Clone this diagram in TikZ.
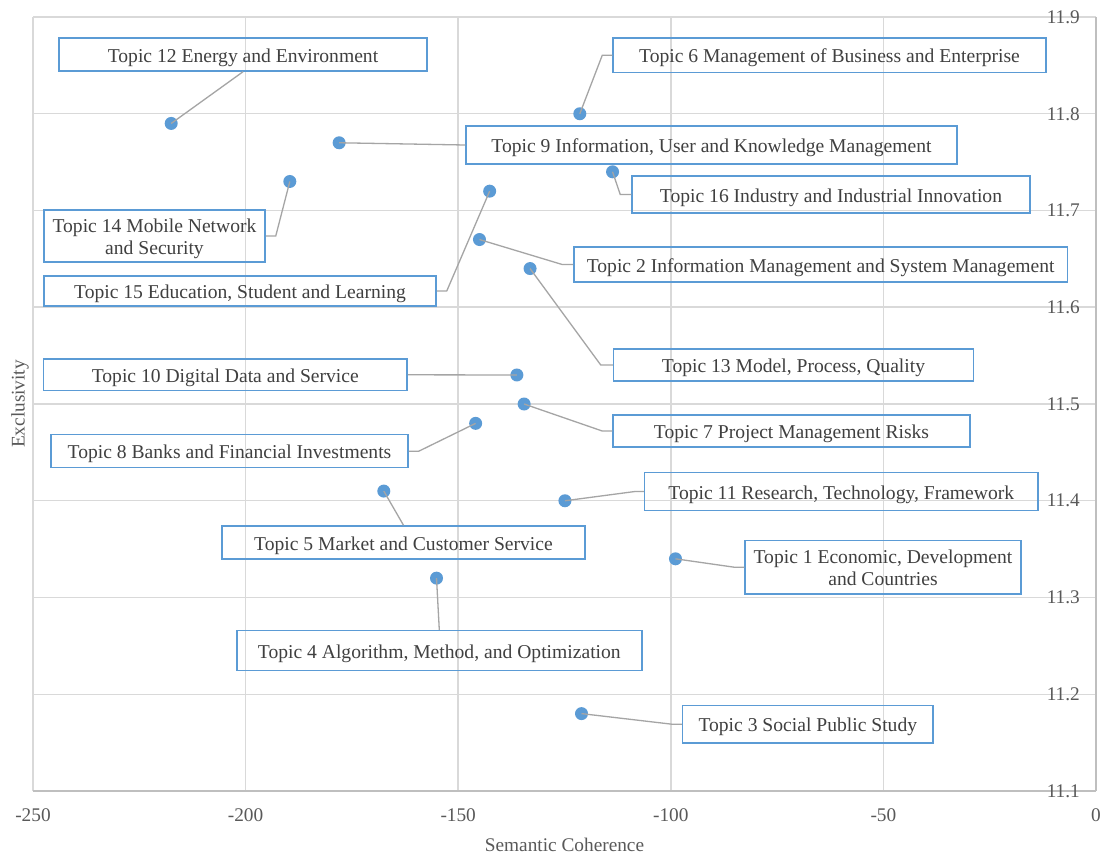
\documentclass[tikz,border=0pt]{standalone}
\usepackage{fontspec}
\setmainfont{Liberation Serif}
\definecolor{dotblue}{HTML}{5B9BD5}
\definecolor{gridgray}{HTML}{D9D9D9}
\definecolor{axisgray}{HTML}{BFBFBF}
\definecolor{leadgray}{HTML}{A5A5A5}
\definecolor{labeltext}{HTML}{404040}
\definecolor{axistext}{HTML}{595959}
% box text: centred lines, set a little below the box centre
\newcommand{\boxtext}[1]{\raisebox{-3pt}[\height][\depth]{\begin{tabular}{@{}c@{}}#1\end{tabular}}}
\begin{document}
\begin{tikzpicture}[x=1pt,y=-1pt,
  labelfont/.style={font=\fontsize{19.3}{22.5}\selectfont},
  boxfont/.style={font=\fontsize{19.6}{22.5}\selectfont},
  topicbox/.style={draw=dotblue, line width=1.5pt, inner sep=0pt, text=labeltext, boxfont},
  leader/.style={draw=leadgray, line width=1.3pt},
  dot/.style={circle, fill=dotblue, draw=none, inner sep=0pt, minimum size=13pt},
  gridline/.style={draw=gridgray, line width=1.5pt},
  axisline/.style={draw=axisgray, line width=1.6pt},
  ticklabel/.style={text=axistext, labelfont, inner sep=0pt},
]
\useasboundingbox (0,0) rectangle (1104,855);
\fill[white] (0,0) rectangle (1104,855);

% plot area in data units: x = semantic coherence, y = exclusivity
\begin{scope}[shift={(1096,11530.25)}, x=4.252pt, y=967.5pt]
  \foreach \v in {-250,-200,...,-50} \draw[gridline] (\v,11.1) -- (\v,11.9);
  \foreach \w in {11.2,11.3,...,11.95} \draw[gridline] (-250,\w) -- (0,\w);
  \draw[axisline] (-250,11.1) -- (0,11.1);
  \draw[axisline] (0,11.1) -- (0,11.9);

  \foreach \v in {-250,-200,-150,-100,-50,0}
    \node[ticklabel] (xl\v) at ([yshift=-24pt]\v,11.1) {\v};
  \foreach \w in {11.1,11.2,11.3,11.4,11.5,11.6,11.7,11.8,11.9}
    \node[ticklabel, anchor=east] (yl\w) at ([xshift=-16pt]0,\w) {\w};

  % topics
  \node[dot] (p1)  at (-98.9,11.34) {};
  \node[dot] (p2)  at (-145.0,11.67) {};
  \node[dot] (p3)  at (-121.0,11.18) {};
  \node[dot] (p4)  at (-155.1,11.32) {};
  \node[dot] (p5)  at (-167.5,11.41) {};
  \node[dot] (p6)  at (-121.4,11.80) {};
  \node[dot] (p7)  at (-134.5,11.50) {};
  \node[dot] (p8)  at (-145.9,11.48) {};
  \node[dot] (p9)  at (-178.0,11.77) {};
  \node[dot] (p10) at (-136.2,11.53) {};
  \node[dot] (p11) at (-124.9,11.40) {};
  \node[dot] (p12) at (-217.5,11.79) {};
  \node[dot] (p13) at (-133.1,11.64) {};
  \node[dot] (p14) at (-189.6,11.73) {};
  \node[dot] (p15) at (-142.6,11.72) {};
  \node[dot] (p16) at (-113.7,11.74) {};
\end{scope}

% axis titles
\node[ticklabel] (xtitle) at (564.5,845) {Semantic Coherence};
\node[ticklabel, rotate=90] (ytitle) at (20,404) {Exclusivity};

% data labels
\node[topicbox, minimum width=368pt, minimum height=33pt] (b12) at (243,54.5) {\boxtext{Topic 12 Energy and Environment}};
\node[topicbox, minimum width=433pt, minimum height=34.5pt] (b6) at (829.5,55.3) {\boxtext{Topic 6 Management of Business and Enterprise}};
\node[topicbox, minimum width=491pt, minimum height=38pt] (b9) at (711.5,145) {\boxtext{Topic 9 Information, User and Knowledge Management}};
\node[topicbox, minimum width=398pt, minimum height=37pt] (b16) at (831,194.5) {\boxtext{Topic 16 Industry and Industrial Innovation}};
\node[topicbox, minimum width=221pt, minimum height=52pt] (b14) at (154.5,236) {\boxtext{Topic 14 Mobile Network\\and Security}};
\node[topicbox, minimum width=392pt, minimum height=30pt] (b15) at (240,291) {\boxtext{Topic 15 Education, Student and Learning}};
\node[topicbox, minimum width=493.5pt, minimum height=35pt] (b2) at (820.7,264.5) {\boxtext{Topic 2 Information Management and System Management}};
\node[topicbox, minimum width=360pt, minimum height=32pt] (b13) at (793.5,365) {\boxtext{Topic 13 Model, Process, Quality}};
\node[topicbox, minimum width=363.4pt, minimum height=31.7pt] (b10) at (225.3,374.8) {\boxtext{Topic 10 Digital Data and Service}};
\node[topicbox, minimum width=357pt, minimum height=32pt] (b7) at (791.5,431) {\boxtext{Topic 7 Project Management Risks}};
\node[topicbox, minimum width=357pt, minimum height=33pt] (b8) at (229.5,451.2) {\boxtext{Topic 8 Banks and Financial Investments}};
\node[topicbox, minimum width=393.3pt, minimum height=38.4pt] (b11) at (841.3,491.5) {\boxtext{Topic 11 Research, Technology, Framework}};
\node[topicbox, minimum width=363pt, minimum height=33pt] (b5) at (403.5,542.5) {\boxtext{Topic 5 Market and Customer Service}};
\node[topicbox, minimum width=276pt, minimum height=53.7pt] (b1) at (883,567.2) {\boxtext{Topic 1 Economic, Development\\and Countries}};
\node[topicbox, minimum width=405pt, minimum height=40pt] (b4) at (439.3,650.7) {\boxtext{Topic 4 Algorithm, Method, and Optimization}};
\node[topicbox, minimum width=250.3pt, minimum height=37.7pt] (b3) at (807.8,724.2) {\boxtext{Topic 3 Social Public Study}};

% leader lines
\draw[leader] (p12.center) -- (b12.south);
\draw[leader] (p6.center) -- ([xshift=-10pt]b6.west) -- (b6.west);
\draw[leader] (p9.center) -- (b9.west);
\draw[leader] (p16.center) -- ([xshift=-11pt]b16.west) -- (b16.west);
\draw[leader] (p14.center) -- ([xshift=10pt]b14.east) -- (b14.east);
\draw[leader] (p15.center) -- ([xshift=10pt]b15.east) -- (b15.east);
\draw[leader] (p2.center) -- ([xshift=-11pt]b2.west) -- (b2.west);
\draw[leader] (p13.center) -- ([xshift=-12pt]b13.west) -- (b13.west);
\draw[leader] (b10.east) -- (p10.center);
\draw[leader] (p7.center) -- ([xshift=-10pt]b7.west) -- (b7.west);
\draw[leader] (p8.center) -- ([xshift=10pt]b8.east) -- (b8.east);
\draw[leader] (p5.center) -- (b5.north);
\draw[leader] (p11.center) -- ([xshift=-9pt]b11.west) -- (b11.west);
\draw[leader] (p1.center) -- ([xshift=-10pt]b1.west) -- (b1.west);
\draw[leader] (p4.center) -- (b4.north);
\draw[leader] (p3.center) -- ([xshift=-10pt]b3.west) -- (b3.west);
\end{tikzpicture}
\end{document}
